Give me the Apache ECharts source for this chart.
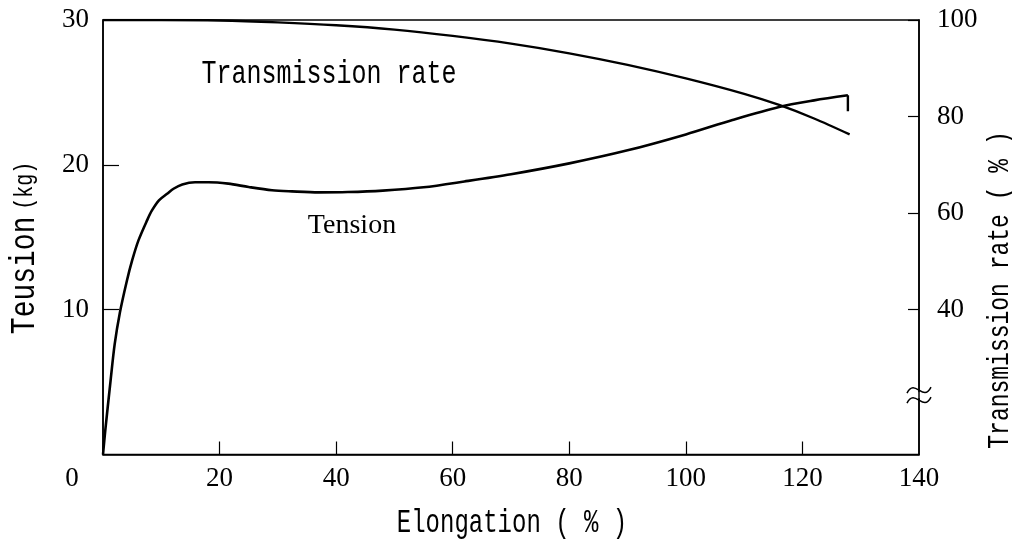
<!DOCTYPE html>
<html>
<head>
<meta charset="utf-8">
<script src="https://cdn.jsdelivr.net/npm/echarts@6/dist/echarts.min.js"></script>
<style>
  html, body { margin: 0; padding: 0; background: #fff; }
  #chart { width: 1012px; height: 543px; }
</style>
</head>
<body>
<div id="chart"></div>
<script>
// Elongation (%) sampled along each curve
var tensionX = [0, 0.4, 1.3, 2.0, 2.9, 4.1, 5.0, 6.1, 7.6, 8.4, 9.6, 11.0, 12.1, 13.6, 15.8, 18.1, 21.5, 25.0, 29.0, 32.4, 37, 42, 48, 55, 62, 70, 80, 90, 100, 108, 116, 122, 127.8];
// Tension (kg), left axis
var tensionY = [0, 1.7, 5.1, 7.6, 9.8, 12.0, 13.4, 14.8, 16.2, 16.85, 17.55, 18.0, 18.35, 18.65, 18.8, 18.8, 18.7, 18.47, 18.25, 18.17, 18.1, 18.12, 18.22, 18.45, 18.85, 19.35, 20.1, 21.0, 22.1, 23.1, 24.0, 24.45, 24.8];
// Break of the specimen at the end of the tension curve
var breakX = [127.8, 127.8];
var breakY = [24.8, 23.7];

var transX = [0, 10, 20, 30, 40, 50, 60, 70, 80, 90, 100, 110, 116, 122, 128.1];
// Transmission rate (%), right axis
var transY = [100, 100, 99.9, 99.5, 98.9, 98.0, 96.7, 95.1, 93.1, 90.7, 87.9, 84.7, 82.4, 79.6, 76.3];

var xTicks = [20, 40, 60, 80, 100, 120];
var leftLabels = [10, 20, 30];
var leftTicks = [10, 20];
var rightValues = [40, 60, 80, 100];
var rightBreakAt = 22.3;

function pairs(xs, ys) {
  return xs.map(function (x, i) { return [x, ys[i]]; });
}

var SERIF = '"Liberation Serif", "DejaVu Serif", serif';
var MONO = '"Liberation Mono", "DejaVu Sans Mono", monospace';
var lineW = 1.5;

var chart = echarts.init(document.getElementById('chart'), null, { renderer: 'canvas' });

var option = {
  backgroundColor: '#fff',
  animation: false,
  grid: {
    left: 103, right: 93, top: 20, bottom: 88.5,
    show: true, borderColor: '#000', borderWidth: lineW, containLabel: false
  },
  xAxis: {
    type: 'value', min: 0, max: 140, interval: 20,
    axisLine: { show: true, lineStyle: { color: '#000', width: lineW } },
    axisTick: { show: true, inside: true, length: 13, customValues: xTicks, lineStyle: { color: '#000', width: 1.2 } },
    splitLine: { show: false },
    axisLabel: {
      color: '#000', fontFamily: SERIF, fontSize: 27, margin: 11,
      formatter: function (v) { return v === 0 ? '{z|0}' : String(v); },
      rich: { z: { fontFamily: SERIF, fontSize: 27, color: '#000', padding: [0, 62, 0, 0] } }
    }
  },
  yAxis: [
    {
      type: 'value', min: 0, max: 30, interval: 10, position: 'left',
      axisLine: { show: true, lineStyle: { color: '#000', width: lineW } },
      axisTick: { show: true, inside: true, length: 16, customValues: leftTicks, lineStyle: { color: '#000', width: 1.2 } },
      splitLine: { show: false },
      axisLabel: { color: '#000', fontFamily: SERIF, fontSize: 27, margin: 14, customValues: leftLabels }
    },
    {
      type: 'value', min: 10, max: 100, interval: 10, position: 'right',
      axisLine: { show: true, lineStyle: { color: '#000', width: lineW } },
      axisTick: { show: true, inside: true, length: 11, customValues: rightValues, lineStyle: { color: '#000', width: 1.2 } },
      splitLine: { show: false },
      axisLabel: { color: '#000', fontFamily: SERIF, fontSize: 27, margin: 18, customValues: rightValues }
    }
  ],
  series: [
    {
      name: 'Tension', type: 'line', yAxisIndex: 0,
      data: pairs(tensionX, tensionY),
      smooth: 0.3, showSymbol: false,
      lineStyle: { color: '#000', width: 2.6 }
    },
    {
      name: 'Break', type: 'line', yAxisIndex: 0,
      data: pairs(breakX, breakY), showSymbol: false,
      lineStyle: { color: '#000', width: 2.4 }
    },
    {
      name: 'Transmission rate', type: 'line', yAxisIndex: 1,
      data: pairs(transX, transY),
      smooth: 0.3, showSymbol: false,
      lineStyle: { color: '#000', width: 2.4 }
    }
  ]
};
chart.setOption(option);

// Stretched text labels and the axis-break mark
function label(text, x, y, font, size, sy, rot) {
  return {
    type: 'text', x: x, y: y, rotation: rot || 0, scaleX: 1, scaleY: sy, z: 100,
    style: { text: text, fontFamily: font, fontSize: size, fill: '#000', align: 'center', verticalAlign: 'middle' }
  };
}

function tilde(dy) {
  return {
    type: 'bezierCurve',
    shape: { x1: -12, y1: dy + 3, cpx1: -4, cpy1: dy - 13, cpx2: 4, cpy2: dy + 13, x2: 12, y2: dy - 3 },
    style: { stroke: '#000', lineWidth: 1.5, fill: null }
  };
}

var axisX = chart.convertToPixel({ xAxisIndex: 0 }, 140);
var breakPy = chart.convertToPixel({ yAxisIndex: 1 }, rightBreakAt);

chart.setOption({
  graphic: [
    label('Transmission rate', 329, 74, MONO, 25, 1.3),
    label('Tension', 352, 226, SERIF, 28, 1.0),
    label('Elongation ( % )', 512, 523, MONO, 24, 1.4),
    {
      type: 'text', x: 25, y: 248, rotation: Math.PI / 2, scaleY: 1.25, z: 100,
      style: {
        text: '{a|Teusion}  {b|(kg)}', align: 'center', verticalAlign: 'middle',
        rich: {
          a: { fontFamily: MONO, fontSize: 28, fill: '#000' },
          b: { fontFamily: MONO, fontSize: 20, fill: '#000' }
        }
      }
    },
    label('Transmission rate ( % )', 1000, 290, MONO, 23, 1.3, Math.PI / 2),
    {
      type: 'group', x: axisX, y: breakPy, z: 100,
      children: [
        { type: 'rect', shape: { x: -5, y: -3, width: 10, height: 6 }, style: { fill: '#fff' } },
        tilde(-5),
        tilde(5)
      ]
    }
  ]
});
</script>
</body>
</html>
